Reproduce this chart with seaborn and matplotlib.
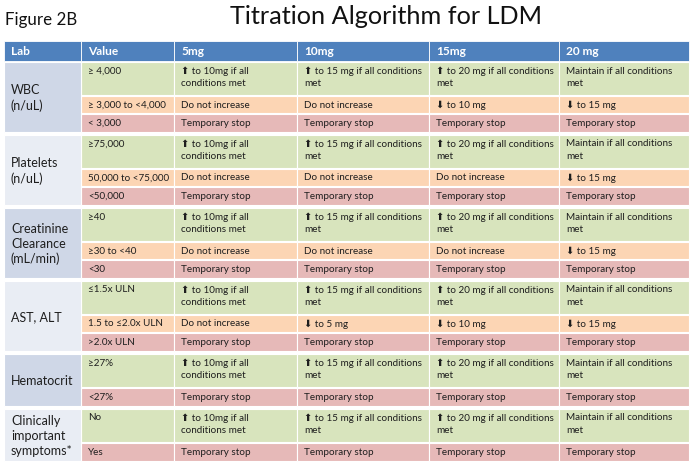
import matplotlib
matplotlib.use("Agg")
import matplotlib.pyplot as plt
from matplotlib.patches import Rectangle
import seaborn as sns

# table content
headers = ["Lab", "Value", "5mg", "10mg", "15mg", "20 mg"]
labs = ["WBC\n(n/uL)", "Platelets\n(n/uL)", "Creatinine\nClearance\n(mL/min)",
        "AST, ALT", "Hematocrit", "Clinically\nimportant\nsymptoms*"]
values = [
    ["≥ 4,000", "≥ 3,000 to <4,000", "< 3,000"],
    ["≥75,000", "50,000 to <75,000", "<50,000"],
    ["≥40", "≥30 to <40", "<30"],
    ["≤1.5x ULN", "1.5 to ≤2.0x ULN", ">2.0x ULN"],
    ["≥27%", "<27%"],
    ["No", "Yes"],
]
status = [
    ["up", "hold", "stop"],
    ["up", "hold", "stop"],
    ["up", "hold", "stop"],
    ["up", "hold", "stop"],
    ["up", "stop"],
    ["up", "stop"],
]
up_text = ["⬆ to 10mg if all\nconditions met", "⬆ to 15 mg if all conditions\nmet",
           "⬆ to 20 mg if all conditions\nmet", "Maintain if all conditions\nmet"]
stop_text = ["Temporary stop"] * 4
hold_text = [
    ["Do not increase", "Do not increase", "⬇ to 10 mg", "⬇ to 15 mg"],
    ["Do not increase", "Do not increase", "Do not increase", "⬇ to 15 mg"],
    ["Do not increase", "Do not increase", "Do not increase", "⬇ to 15 mg"],
    ["Do not increase", "⬇ to 5 mg", "⬇ to 10 mg", "⬇ to 15 mg"],
    None,
    None,
]

# layout (pixels)
col_edges = [4, 81, 174, 297, 429, 559, 689]
row_h = {"up": 33, "hold": 17, "stop": 18}
fill = {"up": "#d8e4bd", "hold": "#fcd5b4", "stop": "#e6b9b8"}
lab_fill = ["#cfd7e7", "#e9edf4"]
header_fill = "#4f81bd"
text_col = "#1e1e1e"

sns.set_theme(style="white")
plt.rcParams["font.family"] = ["Lato", "DejaVu Sans"]

fig = plt.figure(figsize=(6.94, 4.63), dpi=100)
ax = fig.add_axes([0, 0, 1, 1])
ax.set_xlim(0, 694)
ax.set_ylim(463, 0)
ax.axis("off")

ax.text(5, 19.5, "Figure 2B", fontsize=12.2, va="center", ha="left", color="#111111")
ax.text(386, 17, "Titration Algorithm for LDM", fontsize=18.2, va="center", ha="center",
        color="#111111")

# header
y0, hh = 41, 20
for j, h in enumerate(headers):
    x0, x1 = col_edges[j], col_edges[j + 1]
    ax.add_patch(Rectangle((x0, y0), x1 - x0, hh, facecolor=header_fill,
                           edgecolor="white", lw=0.6))
    ax.text(x0 + 7, y0 + hh / 2 + 0.5, h, color="white", fontsize=8.6,
            fontweight="bold", va="center", ha="left")

y = 62
for g, lab in enumerate(labs):
    gy = y
    for r, st in enumerate(status[g]):
        h = row_h[st]
        if st == "up":
            texts = up_text
        elif st == "hold":
            texts = hold_text[g]
        else:
            texts = stop_text
        cells = [values[g][r]] + texts
        for j, t in enumerate(cells):
            x0, x1 = col_edges[j + 1], col_edges[j + 2]
            ax.add_patch(Rectangle((x0, y), x1 - x0, h, facecolor=fill[st],
                                   edgecolor="white", lw=0.8))
            if st == "up":
                ax.text(x0 + 7, y + 4.5, t, fontsize=7.1, va="top", ha="left",
                        color=text_col, linespacing=1.45)
            else:
                ax.text(x0 + 7, y + h / 2 + 0.5, t, fontsize=7.1, va="center",
                        ha="left", color=text_col)
        y += h + 1
    # lab cell spanning the group
    ax.add_patch(Rectangle((col_edges[0], gy), col_edges[1] - col_edges[0], y - 1 - gy,
                           facecolor=lab_fill[g % 2], edgecolor="white", lw=0.8))
    ax.text(col_edges[0] + 7, (gy + y - 1) / 2 + 1, lab, fontsize=9, va="center",
            ha="left", color=text_col, linespacing=1.3)
    y += 2

fig.savefig("out.png", dpi=100)
